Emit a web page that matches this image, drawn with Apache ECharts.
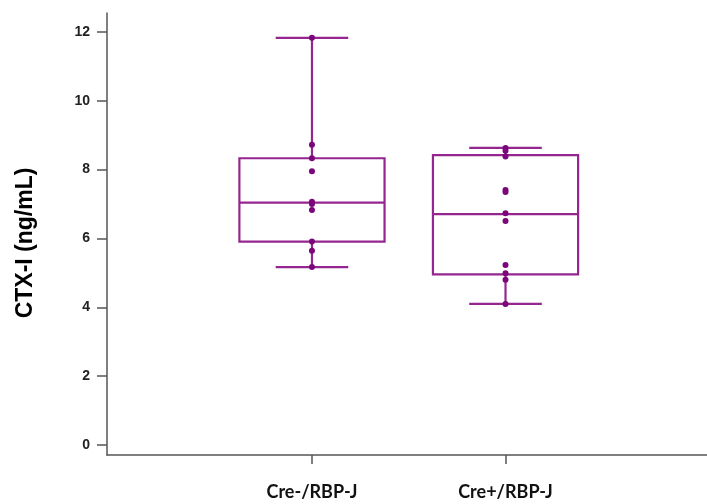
<!DOCTYPE html>
<html>
<head>
<meta charset="utf-8">
<script src="https://cdn.jsdelivr.net/npm/echarts@6/dist/echarts.min.js"></script>
<style>
html,body{margin:0;padding:0;background:#fff;}
#chart{width:707px;height:504px;}
</style>
</head>
<body>
<div id="chart"></div>
<script>
// Data
const categories = ['Cre-/RBP-J', 'Cre+/RBP-J'];
// [low whisker, Q1, median, Q3, high whisker]
const boxStats = [
  [5.17, 5.91, 7.04, 8.33, 11.83],
  [4.10, 4.96, 6.71, 8.42, 8.63]
];
const pointsCreMinus = [11.83, 8.72, 8.33, 7.95, 7.07, 7.0, 6.83, 5.91, 5.64, 5.17];
const pointsCrePlus = [8.63, 8.55, 8.38, 7.41, 7.35, 6.73, 6.51, 5.23, 4.99, 4.80, 4.10];
const yTicks = [0, 2, 4, 6, 8, 10, 12];

const purple = '#95268F';
const dotColor = '#7A067A';

const boxData = boxStats.map((s, i) => [i + 1].concat(s));
const scatterData = [];
pointsCreMinus.forEach(v => scatterData.push([1, v]));
pointsCrePlus.forEach(v => scatterData.push([2, v]));

const chart = echarts.init(document.getElementById('chart'), null, {renderer: 'canvas'});

chart.setOption({
  animation: false,
  backgroundColor: '#ffffff',
  grid: {left: 107, right: 0, top: 13, bottom: 49},
  xAxis: {
    type: 'value',
    min: -0.059,
    max: 3.041,
    splitLine: {show: false},
    axisLine: {show: true, onZero: false, lineStyle: {color: '#555', width: 1.5}},
    axisTick: {show: true, customValues: [1, 2], length: 9, inside: false, lineStyle: {color: '#555', width: 1.5}},
    axisLabel: {
      customValues: [1, 2],
      formatter: v => categories[Math.round(v) - 1] || '',
      margin: 28,
      fontFamily: 'Lato',
      fontWeight: 'bold',
      fontSize: 18,
      color: '#111'
    }
  },
  yAxis: {
    type: 'value',
    min: -0.29,
    max: 12.55,
    name: 'CTX-I (ng/mL)',
    nameLocation: 'middle',
    nameGap: 70,
    nameTextStyle: {fontFamily: 'Liberation Sans', fontWeight: 'bold', fontSize: 23, color: '#000', padding: [0, 18, 0, 0]},
    splitLine: {show: false},
    axisLine: {show: true, onZero: false, lineStyle: {color: '#555', width: 1.5}},
    axisTick: {show: true, customValues: yTicks, length: 10, lineStyle: {color: '#555', width: 1.5}},
    axisLabel: {
      customValues: yTicks,
      margin: 17,
      fontFamily: 'Liberation Sans',
      fontWeight: 'bold',
      fontSize: 14,
      color: '#222'
    }
  },
  series: [
    {
      type: 'custom',
      data: boxData,
      encode: {x: 0, y: [1, 2, 3, 4, 5]},
      renderItem: function (params, api) {
        const x = api.value(0);
        const pLow = api.coord([x, api.value(1)]);
        const pQ1 = api.coord([x, api.value(2)]);
        const pMed = api.coord([x, api.value(3)]);
        const pQ3 = api.coord([x, api.value(4)]);
        const pHigh = api.coord([x, api.value(5)]);
        const w = api.size([0.75, 0])[0];
        const cw = w / 2;
        const cx = pMed[0];
        const style = {stroke: purple, lineWidth: 2.2, fill: null};
        return {
          type: 'group',
          children: [
            {type: 'line', shape: {x1: cx, y1: pHigh[1], x2: cx, y2: pQ3[1]}, style: style},
            {type: 'line', shape: {x1: cx, y1: pQ1[1], x2: cx, y2: pLow[1]}, style: style},
            {type: 'line', shape: {x1: cx - cw / 2, y1: pHigh[1], x2: cx + cw / 2, y2: pHigh[1]}, style: style},
            {type: 'line', shape: {x1: cx - cw / 2, y1: pLow[1], x2: cx + cw / 2, y2: pLow[1]}, style: style},
            {type: 'rect', shape: {x: cx - w / 2, y: pQ3[1], width: w, height: pQ1[1] - pQ3[1]}, style: {stroke: purple, lineWidth: 2.2, fill: 'none'}},
            {type: 'line', shape: {x1: cx - w / 2, y1: pMed[1], x2: cx + w / 2, y2: pMed[1]}, style: style}
          ]
        };
      },
      z: 2
    },
    {
      type: 'scatter',
      data: scatterData,
      symbol: 'circle',
      symbolSize: 6,
      itemStyle: {color: dotColor, opacity: 1},
      z: 3
    }
  ]
});
</script>
</body>
</html>
